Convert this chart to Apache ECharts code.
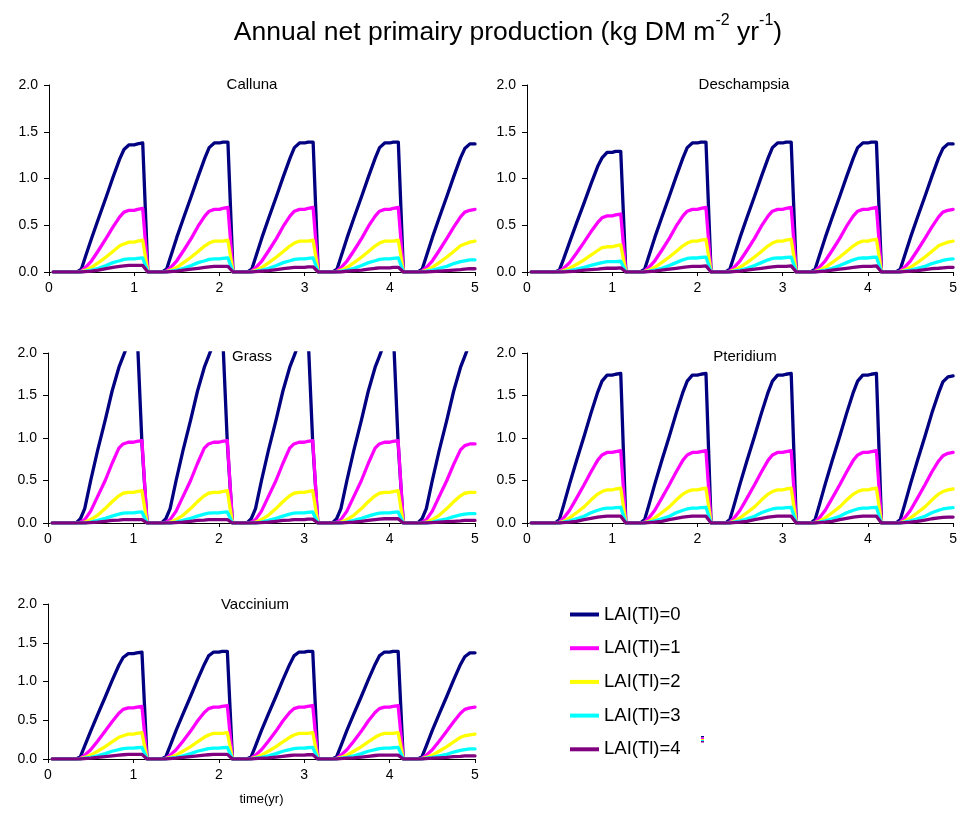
<!DOCTYPE html>
<html>
<head>
<meta charset="utf-8">
<script src="https://cdn.jsdelivr.net/npm/echarts@6/dist/echarts.min.js"></script>
<style>
html,body{margin:0;padding:0;background:#fff;}
#chart{width:960px;height:822px;}
</style>
</head>
<body>
<div id="chart"></div>
<script>
// ---------------- DATA ----------------
const panelNames = ['Calluna', 'Deschampsia', 'Grass', 'Pteridium', 'Vaccinium'];
const seriesNames = ['LAI(Tl)=0', 'LAI(Tl)=1', 'LAI(Tl)=2', 'LAI(Tl)=3', 'LAI(Tl)=4'];
const xTicks = [0, 1, 2, 3, 4, 5];
const yTicks = [0.0, 0.5, 1.0, 1.5, 2.0];

const timeYr = [0.05,
  0.33,0.38,0.43,0.50,0.58,0.67,0.75,0.83,0.88,0.94,1.00,1.04,1.10,1.16,
  1.33,1.38,1.43,1.50,1.58,1.67,1.75,1.83,1.88,1.94,2.00,2.04,2.10,2.16,
  2.33,2.38,2.43,2.50,2.58,2.67,2.75,2.83,2.88,2.94,3.00,3.04,3.10,3.16,
  3.33,3.38,3.43,3.50,3.58,3.67,3.75,3.83,3.88,3.94,4.00,4.04,4.10,4.16,
  4.33,4.38,4.43,4.50,4.58,4.67,4.75,4.83,4.88,4.94,5.00];

// Calluna
const callunaL0 = [0,
  0,0.03,0.17,0.36,0.57,0.80,1.01,1.21,1.31,1.36,1.36,1.37,1.38,0,
  0,0.03,0.17,0.37,0.58,0.81,1.02,1.22,1.33,1.38,1.38,1.39,1.39,0,
  0,0.03,0.17,0.37,0.58,0.81,1.02,1.22,1.33,1.38,1.38,1.39,1.39,0,
  0,0.03,0.17,0.37,0.58,0.81,1.02,1.22,1.33,1.38,1.38,1.39,1.39,0,
  0,0.03,0.17,0.37,0.58,0.81,1.02,1.22,1.32,1.37,1.37];
const callunaL1 = [0,
  0,0.01,0.05,0.12,0.23,0.36,0.48,0.59,0.64,0.66,0.66,0.67,0.68,0,
  0,0.01,0.05,0.12,0.23,0.36,0.49,0.60,0.65,0.67,0.67,0.68,0.69,0,
  0,0.01,0.05,0.12,0.23,0.36,0.49,0.60,0.65,0.67,0.67,0.68,0.69,0,
  0,0.01,0.05,0.12,0.23,0.36,0.49,0.60,0.65,0.67,0.67,0.68,0.69,0,
  0,0.01,0.05,0.12,0.23,0.36,0.48,0.59,0.64,0.66,0.67];
const callunaL2 = [0,
  0,0.005,0.02,0.05,0.10,0.16,0.22,0.28,0.30,0.32,0.32,0.33,0.34,0,
  0,0.005,0.02,0.05,0.10,0.16,0.22,0.28,0.31,0.33,0.33,0.33,0.34,0,
  0,0.005,0.02,0.05,0.10,0.16,0.22,0.28,0.31,0.33,0.33,0.33,0.34,0,
  0,0.005,0.02,0.05,0.10,0.16,0.22,0.28,0.31,0.33,0.33,0.33,0.34,0,
  0,0.005,0.02,0.05,0.10,0.16,0.22,0.28,0.30,0.32,0.33];
const callunaL3 = [0,
  0,0,0.01,0.02,0.04,0.07,0.10,0.12,0.135,0.14,0.14,0.145,0.15,0,
  0,0,0.01,0.02,0.04,0.07,0.10,0.12,0.135,0.14,0.14,0.145,0.15,0,
  0,0,0.01,0.02,0.04,0.07,0.10,0.12,0.135,0.14,0.14,0.145,0.15,0,
  0,0,0.01,0.02,0.04,0.07,0.10,0.12,0.135,0.14,0.14,0.145,0.15,0,
  0,0,0.01,0.02,0.04,0.06,0.09,0.11,0.12,0.13,0.13];
const callunaL4 = [0,
  0,0,0.005,0.01,0.02,0.035,0.05,0.06,0.065,0.07,0.07,0.07,0.07,0,
  0,0,0.005,0.01,0.02,0.03,0.04,0.05,0.055,0.06,0.06,0.06,0.06,0,
  0,0,0.005,0.01,0.015,0.025,0.035,0.045,0.05,0.05,0.05,0.055,0.055,0,
  0,0,0,0.01,0.015,0.02,0.03,0.04,0.045,0.045,0.045,0.05,0.05,0,
  0,0,0,0.005,0.01,0.015,0.02,0.025,0.03,0.035,0.035];

// Deschampsia
const deschampsiaL0 = [0,
  0,0.02,0.14,0.32,0.52,0.74,0.94,1.13,1.22,1.28,1.28,1.29,1.29,0,
  0,0.03,0.17,0.37,0.58,0.81,1.02,1.22,1.33,1.38,1.38,1.39,1.39,0,
  0,0.03,0.17,0.37,0.58,0.81,1.02,1.22,1.33,1.38,1.38,1.39,1.39,0,
  0,0.03,0.17,0.37,0.58,0.81,1.02,1.22,1.33,1.38,1.38,1.39,1.39,0,
  0,0.03,0.17,0.37,0.58,0.81,1.02,1.22,1.32,1.37,1.37];
const deschampsiaL1 = [0,
  0,0.01,0.04,0.10,0.20,0.32,0.43,0.53,0.58,0.60,0.60,0.61,0.62,0,
  0,0.01,0.05,0.12,0.23,0.36,0.49,0.60,0.65,0.67,0.67,0.68,0.69,0,
  0,0.01,0.05,0.12,0.23,0.36,0.49,0.60,0.65,0.67,0.67,0.68,0.69,0,
  0,0.01,0.05,0.12,0.23,0.36,0.49,0.60,0.65,0.67,0.67,0.68,0.69,0,
  0,0.01,0.05,0.12,0.23,0.36,0.48,0.59,0.64,0.66,0.67];
const deschampsiaL2 = [0,
  0,0,0.015,0.04,0.08,0.13,0.18,0.23,0.26,0.27,0.27,0.28,0.29,0,
  0,0.005,0.02,0.05,0.10,0.16,0.22,0.28,0.31,0.33,0.33,0.34,0.35,0,
  0,0.005,0.02,0.05,0.10,0.16,0.22,0.28,0.31,0.33,0.33,0.34,0.35,0,
  0,0.005,0.02,0.05,0.10,0.16,0.22,0.28,0.31,0.33,0.33,0.34,0.35,0,
  0,0.005,0.02,0.05,0.10,0.16,0.22,0.28,0.30,0.32,0.33];
const deschampsiaL3 = [0,
  0,0,0.005,0.015,0.03,0.05,0.07,0.09,0.10,0.11,0.11,0.11,0.115,0,
  0,0,0.01,0.02,0.04,0.07,0.10,0.13,0.145,0.15,0.15,0.155,0.16,0,
  0,0,0.01,0.02,0.04,0.07,0.10,0.13,0.145,0.15,0.15,0.155,0.16,0,
  0,0,0.01,0.02,0.04,0.07,0.10,0.13,0.145,0.15,0.15,0.155,0.16,0,
  0,0,0.01,0.02,0.04,0.06,0.09,0.11,0.125,0.135,0.14];
const deschampsiaL4 = [0,
  0,0,0,0.005,0.01,0.02,0.025,0.03,0.035,0.04,0.04,0.04,0.045,0,
  0,0,0.005,0.01,0.02,0.03,0.04,0.05,0.055,0.06,0.06,0.06,0.065,0,
  0,0,0.005,0.01,0.02,0.03,0.04,0.05,0.055,0.06,0.06,0.06,0.065,0,
  0,0,0.005,0.01,0.02,0.03,0.04,0.05,0.055,0.06,0.06,0.06,0.065,0,
  0,0,0.005,0.01,0.015,0.025,0.035,0.04,0.045,0.05,0.05];

// Grass
const grassL0 = [0,
  0,0.05,0.17,0.50,0.85,1.21,1.55,1.83,1.96,2.12,2.25,2.33,0.94,0,
  0,0.05,0.17,0.50,0.85,1.21,1.55,1.83,1.96,2.12,2.25,2.33,0.94,0,
  0,0.05,0.17,0.50,0.85,1.21,1.55,1.83,1.96,2.12,2.25,2.33,0.94,0,
  0,0.05,0.17,0.50,0.85,1.21,1.55,1.83,1.96,2.12,2.25,2.33,0.94,0,
  0,0.05,0.17,0.50,0.85,1.21,1.55,1.83,1.96,2.12,2.25];
const grassL1 = [0,
  0,0.01,0.04,0.14,0.31,0.50,0.70,0.88,0.93,0.95,0.95,0.96,0.97,0,
  0,0.01,0.04,0.14,0.31,0.50,0.70,0.88,0.93,0.95,0.95,0.96,0.97,0,
  0,0.01,0.04,0.14,0.31,0.50,0.70,0.88,0.93,0.95,0.95,0.96,0.97,0,
  0,0.01,0.04,0.14,0.31,0.50,0.70,0.88,0.93,0.95,0.95,0.96,0.97,0,
  0,0.01,0.04,0.14,0.31,0.50,0.69,0.86,0.91,0.93,0.93];
const grassL2 = [0,
  0,0,0.01,0.04,0.09,0.17,0.25,0.32,0.35,0.36,0.36,0.37,0.38,0,
  0,0,0.01,0.04,0.09,0.17,0.25,0.32,0.35,0.36,0.36,0.37,0.38,0,
  0,0,0.01,0.04,0.09,0.17,0.25,0.32,0.35,0.36,0.36,0.37,0.38,0,
  0,0,0.01,0.04,0.09,0.17,0.25,0.32,0.35,0.36,0.36,0.37,0.38,0,
  0,0,0.01,0.04,0.09,0.17,0.25,0.32,0.35,0.36,0.36];
const grassL3 = [0,
  0,0,0,0.01,0.03,0.055,0.08,0.105,0.115,0.12,0.12,0.125,0.13,0,
  0,0,0,0.01,0.03,0.055,0.08,0.105,0.115,0.12,0.12,0.125,0.13,0,
  0,0,0,0.01,0.03,0.055,0.08,0.105,0.115,0.12,0.12,0.125,0.13,0,
  0,0,0,0.01,0.03,0.055,0.08,0.105,0.115,0.12,0.12,0.125,0.13,0,
  0,0,0,0.01,0.03,0.05,0.075,0.095,0.105,0.11,0.11];
const grassL4 = [0,
  0,0,0,0.005,0.01,0.02,0.03,0.035,0.04,0.04,0.04,0.04,0.04,0,
  0,0,0,0.005,0.01,0.02,0.03,0.035,0.04,0.04,0.04,0.04,0.04,0,
  0,0,0,0.005,0.01,0.02,0.03,0.035,0.04,0.04,0.04,0.045,0.045,0,
  0,0,0,0.005,0.01,0.02,0.03,0.04,0.045,0.05,0.05,0.05,0.05,0,
  0,0,0,0.005,0.01,0.015,0.02,0.025,0.03,0.03,0.03];

// Pteridium
const pteridiumL0 = [0,
  0,0.04,0.21,0.46,0.73,1.02,1.29,1.54,1.67,1.74,1.74,1.75,1.76,0,
  0,0.04,0.21,0.46,0.73,1.02,1.29,1.54,1.67,1.74,1.74,1.75,1.76,0,
  0,0.04,0.21,0.46,0.73,1.02,1.29,1.54,1.67,1.74,1.74,1.75,1.76,0,
  0,0.04,0.21,0.46,0.73,1.02,1.29,1.54,1.67,1.74,1.74,1.75,1.76,0,
  0,0.04,0.21,0.46,0.73,1.02,1.29,1.53,1.66,1.72,1.73];
const pteridiumL1 = [0,
  0,0.01,0.06,0.15,0.29,0.45,0.60,0.74,0.80,0.83,0.83,0.84,0.85,0,
  0,0.01,0.06,0.15,0.29,0.45,0.60,0.74,0.80,0.83,0.83,0.84,0.85,0,
  0,0.01,0.06,0.15,0.29,0.45,0.60,0.74,0.80,0.83,0.83,0.84,0.85,0,
  0,0.01,0.06,0.15,0.29,0.45,0.60,0.74,0.80,0.83,0.83,0.84,0.85,0,
  0,0.01,0.06,0.15,0.29,0.45,0.60,0.73,0.79,0.82,0.83];
const pteridiumL2 = [0,
  0,0.005,0.02,0.06,0.12,0.19,0.27,0.34,0.37,0.39,0.39,0.40,0.41,0,
  0,0.005,0.02,0.06,0.12,0.19,0.27,0.34,0.37,0.39,0.39,0.40,0.41,0,
  0,0.005,0.02,0.06,0.12,0.19,0.27,0.34,0.37,0.39,0.39,0.40,0.41,0,
  0,0.005,0.02,0.06,0.12,0.19,0.27,0.34,0.37,0.39,0.39,0.40,0.41,0,
  0,0.005,0.02,0.06,0.12,0.19,0.27,0.34,0.37,0.39,0.40];
const pteridiumL3 = [0,
  0,0,0.01,0.025,0.05,0.08,0.12,0.15,0.165,0.175,0.175,0.18,0.185,0,
  0,0,0.01,0.025,0.05,0.08,0.12,0.15,0.165,0.175,0.175,0.18,0.185,0,
  0,0,0.01,0.025,0.05,0.08,0.12,0.15,0.165,0.175,0.175,0.18,0.185,0,
  0,0,0.01,0.025,0.05,0.08,0.12,0.15,0.165,0.175,0.175,0.18,0.185,0,
  0,0,0.01,0.025,0.05,0.08,0.12,0.15,0.165,0.175,0.18];
const pteridiumL4 = [0,
  0,0,0.005,0.01,0.02,0.04,0.055,0.07,0.075,0.08,0.08,0.08,0.08,0,
  0,0,0.005,0.01,0.02,0.04,0.055,0.07,0.075,0.08,0.08,0.08,0.08,0,
  0,0,0.005,0.01,0.02,0.04,0.055,0.07,0.075,0.08,0.08,0.08,0.08,0,
  0,0,0.005,0.01,0.02,0.04,0.055,0.07,0.075,0.08,0.08,0.08,0.08,0,
  0,0,0.005,0.01,0.02,0.035,0.05,0.06,0.065,0.07,0.07];

// Vaccinium
const vacciniumL0 = [0,
  0,0.03,0.17,0.36,0.57,0.80,1.01,1.21,1.31,1.36,1.36,1.37,1.38,0,
  0,0.03,0.17,0.37,0.58,0.81,1.02,1.22,1.33,1.38,1.38,1.39,1.39,0,
  0,0.03,0.17,0.37,0.58,0.81,1.02,1.22,1.33,1.38,1.38,1.39,1.39,0,
  0,0.03,0.17,0.37,0.58,0.81,1.02,1.22,1.33,1.38,1.38,1.39,1.39,0,
  0,0.03,0.17,0.37,0.58,0.81,1.02,1.22,1.32,1.37,1.37];
const vacciniumL1 = [0,
  0,0.01,0.05,0.12,0.23,0.36,0.48,0.59,0.64,0.66,0.66,0.67,0.68,0,
  0,0.01,0.05,0.12,0.23,0.36,0.49,0.60,0.65,0.67,0.67,0.68,0.69,0,
  0,0.01,0.05,0.12,0.23,0.36,0.49,0.60,0.65,0.67,0.67,0.68,0.69,0,
  0,0.01,0.05,0.12,0.23,0.36,0.49,0.60,0.65,0.67,0.67,0.68,0.69,0,
  0,0.01,0.05,0.12,0.23,0.36,0.48,0.59,0.64,0.66,0.67];
const vacciniumL2 = [0,
  0,0.005,0.02,0.05,0.10,0.16,0.22,0.28,0.30,0.32,0.32,0.33,0.34,0,
  0,0.005,0.02,0.05,0.10,0.16,0.22,0.28,0.31,0.33,0.33,0.33,0.34,0,
  0,0.005,0.02,0.05,0.10,0.16,0.22,0.28,0.31,0.33,0.33,0.33,0.34,0,
  0,0.005,0.02,0.05,0.10,0.16,0.22,0.28,0.31,0.33,0.33,0.33,0.34,0,
  0,0.005,0.02,0.05,0.10,0.16,0.22,0.28,0.30,0.31,0.32];
const vacciniumL3 = [0,
  0,0,0.01,0.02,0.04,0.07,0.10,0.12,0.135,0.14,0.14,0.145,0.15,0,
  0,0,0.01,0.02,0.04,0.07,0.10,0.12,0.135,0.14,0.14,0.145,0.15,0,
  0,0,0.01,0.02,0.04,0.07,0.10,0.12,0.135,0.14,0.14,0.145,0.15,0,
  0,0,0.01,0.02,0.04,0.07,0.10,0.12,0.135,0.14,0.14,0.145,0.15,0,
  0,0,0.01,0.02,0.04,0.06,0.09,0.11,0.12,0.13,0.13];
const vacciniumL4 = [0,
  0,0,0.005,0.01,0.02,0.03,0.04,0.05,0.055,0.06,0.06,0.06,0.06,0,
  0,0,0.005,0.01,0.02,0.03,0.04,0.05,0.055,0.06,0.06,0.06,0.06,0,
  0,0,0.005,0.01,0.015,0.025,0.035,0.045,0.05,0.05,0.05,0.055,0.055,0,
  0,0,0.005,0.01,0.015,0.025,0.035,0.045,0.05,0.05,0.05,0.05,0.05,0,
  0,0,0.005,0.01,0.015,0.02,0.03,0.035,0.04,0.04,0.04];

const panelData = [
  [callunaL0, callunaL1, callunaL2, callunaL3, callunaL4],
  [deschampsiaL0, deschampsiaL1, deschampsiaL2, deschampsiaL3, deschampsiaL4],
  [grassL0, grassL1, grassL2, grassL3, grassL4],
  [pteridiumL0, pteridiumL1, pteridiumL2, pteridiumL3, pteridiumL4],
  [vacciniumL0, vacciniumL1, vacciniumL2, vacciniumL3, vacciniumL4]
];

// ---------------- LAYOUT / STYLE ----------------
const FONT = '"Liberation Sans", Arial, sans-serif';
const colors = ['#000080', '#FF00FF', '#FFFF00', '#00FFFF', '#800080'];
const gridBoxes = [
  {left: 49, top: 85, width: 426, height: 187},
  {left: 527, top: 85, width: 428, height: 187},
  {left: 48, top: 353, width: 427, height: 170},
  {left: 527, top: 353, width: 428, height: 170},
  {left: 48, top: 604, width: 427, height: 155}
];
const titlePos = [
  {x: 247, y: 72}, {x: 739, y: 72}, {x: 247, y: 344}, {x: 740, y: 344}, {x: 250, y: 592}
];

const chart = echarts.init(document.getElementById('chart'), null, {renderer: 'canvas'});

const grid = gridBoxes.map(b => Object.assign({containLabel: false}, b));
const xAxis = gridBoxes.map((b, i) => ({
  type: 'value', gridIndex: i, min: xTicks[0], max: xTicks[xTicks.length - 1], interval: 1,
  axisLine: {onZero: false, lineStyle: {color: '#000', width: 1}},
  axisTick: {show: true, length: 4, lineStyle: {color: '#000'}},
  axisLabel: {color: '#000', fontSize: 14, fontFamily: FONT, margin: 9, showMaxLabel: true, showMinLabel: true},
  splitLine: {show: false},
  name: i === 4 ? 'time(yr)' : '',
  nameLocation: 'middle', nameGap: 34,
  nameTextStyle: {color: '#000', fontSize: 13, fontFamily: FONT}
}));
const yAxis = gridBoxes.map((b, i) => ({
  type: 'value', gridIndex: i, min: yTicks[0], max: yTicks[yTicks.length - 1], interval: 0.5,
  axisLine: {show: true, lineStyle: {color: '#000', width: 1}},
  axisTick: {show: true, length: 5, lineStyle: {color: '#000'}},
  axisLabel: {color: '#000', fontSize: 14, fontFamily: FONT, margin: 11,
    formatter: v => v.toFixed(1)},
  splitLine: {show: false}
}));

const series = [];
panelData.forEach((lines, g) => {
  lines.forEach((vals, k) => {
    series.push({
      name: seriesNames[k], type: 'line', xAxisIndex: g, yAxisIndex: g,
      data: timeYr.map((t, j) => [t, vals[j]]),
      showSymbol: false, symbol: 'none', clip: true,
      lineStyle: {color: colors[k], width: 3.3, join: 'round', cap: 'round'},
      itemStyle: {color: colors[k]},
      animation: false
    });
  });
});

const titles = [{
  text: '{a|Annual net primairy production (kg DM m}{s|-2}{a| yr}{s|-1}{a|)}',
  left: 503, top: 8, textAlign: 'center',
  textStyle: {
    fontWeight: 'normal',
    rich: {
      a: {fontSize: 26.5, fontWeight: 'normal', fontFamily: FONT, color: '#000', lineHeight: 33, verticalAlign: 'bottom'},
      s: {fontSize: 16, fontWeight: 'normal', fontFamily: FONT, color: '#000', lineHeight: 33, verticalAlign: 'top'}
    }
  }
}].concat(panelNames.map((n, i) => ({
  text: n, left: titlePos[i].x, top: titlePos[i].y, textAlign: 'center',
  textStyle: {fontSize: 15, fontWeight: 'normal', fontFamily: FONT, color: '#000'}
})));

const option = {
  backgroundColor: '#fff',
  animation: false,
  title: titles,
  grid, xAxis, yAxis, series,
  legend: {
    data: seriesNames.map((n, k) => ({name: n, icon: 'rect', itemStyle: {color: colors[k]}})),
    orient: 'vertical', left: 565, top: 600,
    itemWidth: 29, itemHeight: 4, itemGap: 14.7,
    textStyle: {fontSize: 18.5, fontFamily: FONT, color: '#000', lineHeight: 18},
    selectedMode: false
  },
  graphic: [
    {type: 'rect', left: 701, top: 736, shape: {width: 3, height: 1.5}, style: {fill: '#000080'}},
    {type: 'rect', left: 701, top: 737.5, shape: {width: 3, height: 1.5}, style: {fill: '#FF00FF'}},
    {type: 'rect', left: 701, top: 739, shape: {width: 3, height: 1}, style: {fill: '#FFFF00'}},
    {type: 'rect', left: 701, top: 740, shape: {width: 3, height: 1}, style: {fill: '#00FFFF'}},
    {type: 'rect', left: 701, top: 741, shape: {width: 3, height: 1.5}, style: {fill: '#800080'}}
  ]
};
chart.setOption(option);
</script>
</body>
</html>
